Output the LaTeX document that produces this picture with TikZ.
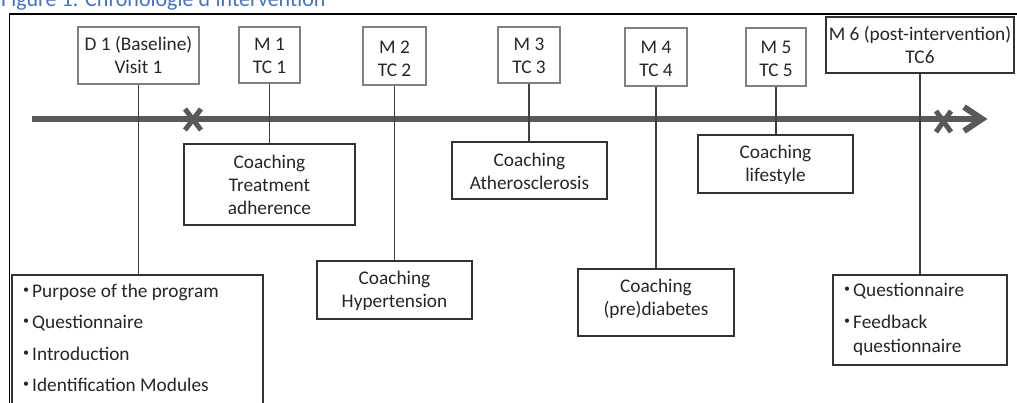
\documentclass[tikz,border=0pt]{standalone}
\usepackage{fontspec}
\setmainfont{Carlito}
\definecolor{titleblue}{RGB}{68,114,196}
\definecolor{axisgray}{RGB}{89,89,89}
\definecolor{txtgray}{RGB}{38,38,38}
\begin{document}
\begin{tikzpicture}[x=1pt,y=-1pt,
  topbox/.style={draw=black!50, line width=1.1pt, inner sep=0pt},
  box/.style={draw=black!80, line width=1.1pt, inner sep=0pt},
  txt/.style={align=center, font=\fontsize{19.3}{23}\selectfont, text=txtgray, inner sep=0pt},
  item/.style={anchor=west, font=\fontsize{19.3}{23}\selectfont, text=txtgray, inner sep=0pt},
  bul/.style={font=\fontsize{12}{12}\selectfont, text=txtgray, inner sep=0pt},
  conn/.style={draw=black!75, line width=1.2pt},
  axisline/.style={draw=axisgray, line width=6pt},
  xmark/.style={draw=axisgray, line width=5pt}]
\useasboundingbox (0,0) rectangle (1017,403);
\clip (0,0) rectangle (1017,403);

% title (partly cut off at the top)
\node[anchor=base west, font=\fontsize{22}{26}\selectfont, text=titleblue, inner sep=0pt] (title) at (1,6.5) {Figure 1: Chronologie d'intervention};

% outer frame
\draw[black, line width=1.3pt] (9.5,14) rectangle (1040,440);

% time axis
\coordinate (a0) at (32,119);
\coordinate (a1) at (980,119);
\coordinate (tipup) at (964,107);
\coordinate (tip) at (982,119);
\coordinate (tipdn) at (964,131);
\draw[axisline] (a0) -- (a1);
\draw[axisline, line join=miter] (tipup) -- (tip) -- (tipdn);

% X marks
\draw[xmark] (185,109) -- (201,130) (201,109) -- (185,130);
\draw[xmark] (936,111) -- (951,132) (951,111) -- (936,132);

% top boxes
\node[topbox, minimum width=121pt, minimum height=57pt] (d1) at (138.5,55.5) {};
\node[txt] (d1t) at (138.5,55.5) {D 1 (Baseline)\\Visit 1};
\node[topbox, minimum width=61pt, minimum height=56pt] (m1) at (269.5,55) {};
\node[txt] (m1t) at (269.5,55.5) {M 1\\TC 1};
\node[topbox, minimum width=63pt, minimum height=58pt] (m2) at (394.5,56) {};
\node[txt] (m2t) at (394.5,58.5) {M 2\\TC 2};
\node[topbox, minimum width=62pt, minimum height=56pt] (m3) at (529,55) {};
\node[txt] (m3t) at (529,56) {M 3\\TC 3};
\node[topbox, minimum width=62pt, minimum height=58pt] (m4) at (656,57) {};
\node[txt] (m4t) at (656,58.5) {M 4\\TC 4};
\node[topbox, minimum width=60pt, minimum height=58pt] (m5) at (776,57) {};
\node[txt] (m5t) at (776,58.5) {M 5\\TC 5};
\node[box, minimum width=188pt, minimum height=56pt] (m6) at (920,45) {};
\node[txt] (m6t) at (920,45) {M 6 (post-intervention)\\TC6};

% lower boxes
\node[box, minimum width=171pt, minimum height=81pt] (treat) at (269.5,184.5) {};
\node[txt] (treatt) at (269.5,184.5) {Coaching\\Treatment\\adherence};
\node[box, minimum width=155pt, minimum height=58pt] (hyper) at (394.5,290) {};
\node[txt] (hypert) at (394.5,290.5) {Coaching\\Hypertension};
\node[box, minimum width=155pt, minimum height=57pt] (ather) at (529.5,170.5) {};
\node[txt] (athert) at (529.5,171) {Coaching\\Atherosclerosis};
\node[box, minimum width=156pt, minimum height=67pt] (diab) at (656,302.5) {};
\node[txt] (diabt) at (656,298.5) {Coaching\\(pre)diabetes};
\node[box, minimum width=155pt, minimum height=58pt] (life) at (775.5,164) {};
\node[txt] (lifet) at (775.5,165) {Coaching\\lifestyle};
\node[box, minimum width=174pt, minimum height=90pt] (feed) at (920,320) {};
\node[box, minimum width=251pt, minimum height=145pt] (base) at (137.5,347.5) {};

% bullet lists
\node[bul] (b1) at (26,291) {•};
\node[item] (i1) at (32,293) {\strut Purpose of the program};
\node[bul] (b2) at (26,322) {•};
\node[item] (i2) at (32,324) {\strut Questionnaire};
\node[bul] (b3) at (26,354) {•};
\node[item] (i3) at (32,356) {\strut Introduction};
\node[bul] (b4) at (26,385) {•};
\node[item] (i4) at (32,387) {\strut Identification Modules};

\node[bul] (f1) at (847,290) {•};
\node[item] (fi1) at (853,292) {\strut Questionnaire};
\node[bul] (f2) at (847,322) {•};
\node[item] (fi2) at (853,324) {\strut Feedback};
\node[item] (fi3) at (853,348) {\strut questionnaire};

% connectors
\draw[conn] (d1.south) -- (d1.south |- base.north);
\draw[conn] (m1.south) -- (m1.south |- treat.north);
\draw[conn] (m2.south) -- (m2.south |- hyper.north);
\draw[conn] (m3.south) -- (m3.south |- ather.north);
\draw[conn] (m4.south) -- (m4.south |- diab.north);
\draw[conn] (m5.south) -- (m5.south |- life.north);
\draw[conn] (m6.south) -- (m6.south |- feed.north);
\end{tikzpicture}
\end{document}
